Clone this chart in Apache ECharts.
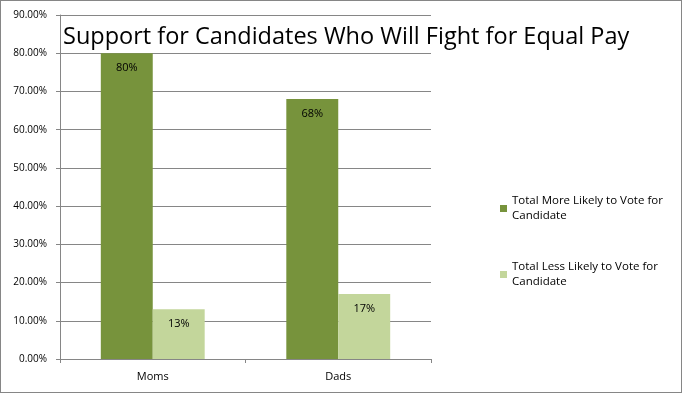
<!DOCTYPE html>
<html><head><meta charset="utf-8">
<script src="https://cdn.jsdelivr.net/npm/echarts@6/dist/echarts.min.js"></script>
<style>html,body{margin:0;padding:0;background:#fff}#w{position:relative;width:683px;height:394px}#c{width:683px;height:394px}#b{position:absolute;left:0;top:0;width:682px;height:393px;box-sizing:border-box;border:1px solid #868686;pointer-events:none}</style>
</head><body><div id="w"><div id="c"></div><div id="b"></div></div>
<script>
var titleText = 'Support for Candidates Who Will Fight for Equal Pay';
var categories = ['Moms', 'Dads'];
var seriesNames = ['Total More Likely to Vote for\nCandidate', 'Total Less Likely to Vote for\nCandidate'];
var moreLikely = [0.80, 0.68];
var lessLikely = [0.13, 0.17];
var yTicks = {min: 0, max: 0.9, interval: 0.1};

var chart = echarts.init(document.getElementById('c'), null, {renderer: 'canvas'});
var font = 'Open Sans, Liberation Sans, sans-serif';
function lbl(p){ return Math.round(p.value*100) + '%'; }
chart.setOption({
  animation: false,
  textStyle: {fontFamily: font},
  title: {text: titleText, left: 58, top: 20, textStyle: {fontFamily: font, fontSize: 23.5, fontWeight: 'normal', color: '#000'}},
  legend: {
    orient: 'vertical', left: 495, top: 181, itemGap: 21, itemWidth: 7, itemHeight: 7, icon: 'rect',
    textStyle: {fontFamily: font, fontSize: 11.5, color: '#000', lineHeight: 15, padding: [15, 0, 0, 0]},
    data: seriesNames
  },
  grid: {left: 60, right: 252, top: 15, bottom: 35, containLabel: false},
  xAxis: {
    type: 'category', data: categories,
    axisLine: {lineStyle: {color: '#868686'}},
    axisTick: {show: true, length: 4, lineStyle: {color: '#868686'}},
    axisLabel: {color: '#000', fontSize: 11, margin: 12, fontFamily: font}
  },
  yAxis: {
    type: 'value', min: yTicks.min, max: yTicks.max, interval: yTicks.interval,
    axisLine: {show: true, lineStyle: {color: '#868686'}},
    axisTick: {show: true, length: 4, lineStyle: {color: '#868686'}},
    splitLine: {lineStyle: {color: '#868686'}},
    axisLabel: {color: '#000', fontSize: 10, margin: 13, fontFamily: font, formatter: function(v){ return (v*100).toFixed(2) + '%'; }}
  },
  series: [
    {name: seriesNames[0], type: 'bar', data: moreLikely, barWidth: '28%', barGap: '0%',
     itemStyle: {color: '#77933C'},
     label: {show: true, position: 'insideTop', distance: 9, color: '#000', fontSize: 11, fontFamily: font, formatter: lbl}},
    {name: seriesNames[1], type: 'bar', data: lessLikely, barWidth: '28%', barGap: '0%',
     itemStyle: {color: '#C3D69B'},
     label: {show: true, position: 'insideTop', distance: 9, color: '#000', fontSize: 11, fontFamily: font, formatter: lbl}}
  ]
});
</script></body></html>
